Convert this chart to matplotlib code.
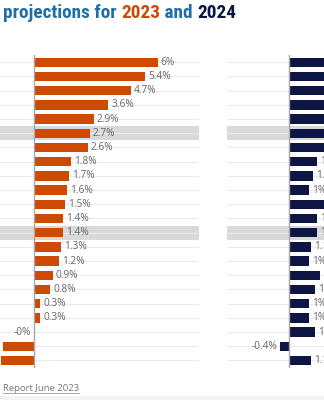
import matplotlib
matplotlib.use("Agg")
import matplotlib.pyplot as plt
from matplotlib.patches import Rectangle
from matplotlib.lines import Line2D
import numpy as np

# GDP growth projections (%), same row order in both panels
countries = ["India", "China", "Indonesia", "Türkiye", "Saudi Arabia", "World",
             "Mexico", "Australia", "Brazil", "United States", "Korea", "Canada",
             "OECD", "Japan", "Italy", "Euro area", "France", "United Kingdom",
             "South Africa", "Germany", "Russia", "Argentina"]
growth_2023 = [6.0, 5.4, 4.7, 3.6, 2.9, 2.7, 2.6, 1.8, 1.7, 1.6, 1.5, 1.4,
               1.4, 1.3, 1.2, 0.9, 0.8, 0.3, 0.3, -0.0, -1.5, -1.6]
growth_2024 = [7.0, 5.1, 5.1, 3.7, 2.5, 2.9, 2.1, 1.4, 1.2, 1.0, 2.1, 1.4,
               1.4, 1.1, 1.0, 1.5, 1.3, 1.0, 1.0, 1.3, -0.4, 1.1]
highlight = ["World", "OECD"]

ORANGE = "#cc4a02"
NAVY = "#0c1544"
BLUE = "#1f6fa6"
BAND = "#d9d9d9"
GRID = "#ebebeb"
ZERO = "#a8a8a8"
LABEL = "#666666"

W, H = 324, 400
SCALE = 20.6  # pixels per percentage point
ROW_TOP, ROW_BOTTOM = 55.2, 367.5

fig = plt.figure(figsize=(W / 100, H / 100), dpi=100)
fig.patch.set_facecolor("white")


def px_axes(x0, x1):
    return fig.add_axes([x0 / W, 1 - ROW_BOTTOM / H, (x1 - x0) / W, (ROW_BOTTOM - ROW_TOP) / H])


def draw_panel(ax, values, color, x0, x1, zero_px, show_names):
    xlim = ((x0 - zero_px) / SCALE, (x1 - zero_px) / SCALE)
    y = np.arange(len(values))
    for i, name in enumerate(countries):
        if name in highlight:
            ax.axhspan(i - 0.5, i + 0.5, color=BAND, lw=0, zorder=0)
    ax.hlines(y, xlim[0], xlim[1], color=GRID, lw=0.8, zorder=1)
    ax.barh(y, values, height=0.66, color=color, zorder=2)
    ax.axvline(0, color=ZERO, lw=1.0, zorder=3)
    pad = 3 / SCALE
    for yi, v in zip(y, values):
        label = f"{v:g}%"
        if v > 0:
            ax.text(v + pad, yi, label, ha="left", va="center", fontsize=7.3,
                    color=LABEL, family="Open Sans", zorder=4)
        else:
            ax.text(min(v, 0) - pad, yi, label, ha="right", va="center", fontsize=7.3,
                    color=LABEL, family="Open Sans", zorder=4)
    ax.set_xlim(xlim)
    ax.set_ylim(len(values) - 0.5, -0.5)
    for s in ax.spines.values():
        s.set_visible(False)
    ax.set_xticks([])
    ax.set_yticks(y)
    ax.set_yticklabels(countries if show_names else [])
    ax.tick_params(length=0, labelsize=8, labelcolor="#333333")
    ax.set_facecolor("none")


ax1 = px_axes(-40, 199)
draw_panel(ax1, growth_2023, ORANGE, -40, 199, 34, True)
ax2 = px_axes(227.3, 420)
draw_panel(ax2, growth_2024, NAVY, 227.3, 420, 288.6, False)

# title with coloured years, laid out word by word
renderer = fig.canvas.get_renderer()
title_font = dict(family=["Roboto Condensed", "DejaVu Sans"], weight="bold", fontsize=13.9)
x = 3 / W
for part, col in [("projections for ", BLUE), ("2023", ORANGE), (" and ", BLUE), ("2024", NAVY)]:
    t = fig.text(x, 1 - 17.8 / H, part, color=col, va="baseline", ha="left", **title_font)
    bb = t.get_window_extent(renderer)
    x += bb.width / W

# source line and footer strip
src = fig.text(3 / W, 1 - 391 / H, "Report June 2023", fontsize=6.8, color="#777777",
               family="Open Sans", va="baseline", ha="left")
bb = src.get_window_extent(renderer)
fig.add_artist(Line2D([3 / W, 3 / W + bb.width / W], [1 - 393 / H] * 2, color="#999999", lw=0.6))
fig.add_artist(Rectangle((0, 0), 1, 4 / H, color="#f3f3f3", lw=0))

fig.savefig("out.png", dpi=100)
